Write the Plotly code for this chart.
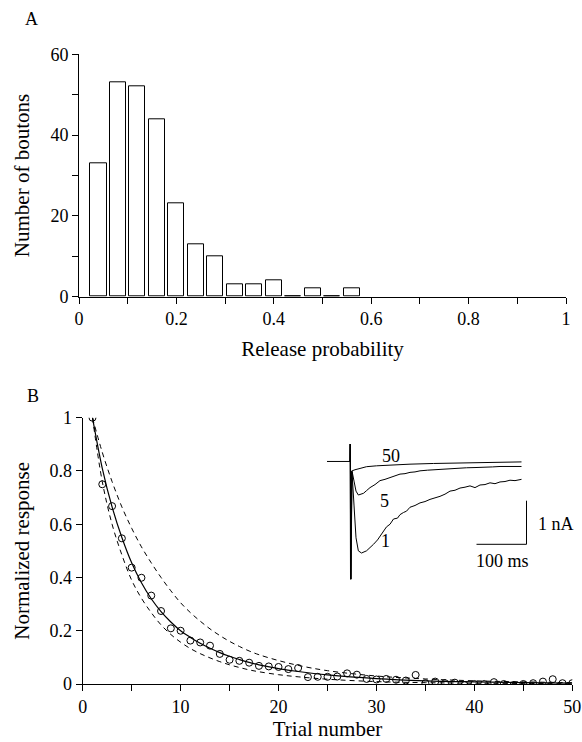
import plotly.graph_objects as go

# ---------------- Panel A data ----------------
bin_centers = [0.04, 0.08, 0.12, 0.16, 0.20, 0.24, 0.28, 0.32, 0.36, 0.40, 0.44, 0.48, 0.52, 0.56]
bouton_counts = [33, 53, 52, 44, 23, 13, 10, 3, 3, 4, 0, 2, 0, 2]

# ---------------- Panel B data ----------------
trials = list(range(1, 51))
norm_resp = [1.00, 0.75, 0.668, 0.547, 0.437, 0.399, 0.332, 0.274, 0.209, 0.200,
             0.163, 0.156, 0.144, 0.113, 0.091, 0.087, 0.080, 0.068, 0.066, 0.064,
             0.056, 0.060, 0.026, 0.027, 0.027, 0.028, 0.040, 0.035, 0.019, 0.017,
             0.019, 0.016, 0.013, 0.034, 0.003, 0.009, 0.003, 0.005, -0.004, 0.000,
             0.000, 0.007, 0.000, -0.004, 0.000, 0.003, 0.009, 0.018, 0.003, 0.003]

fit_trials = [1, 2, 3, 4, 5, 6, 7, 8, 9, 10, 11, 12, 13, 14, 15, 16, 17, 18, 20, 22, 25, 30, 35, 40, 45, 50]
fit_solid = [1.0, 0.81, 0.665, 0.55, 0.455, 0.38, 0.32, 0.272, 0.233, 0.20, 0.175, 0.153, 0.134,
             0.118, 0.104, 0.092, 0.081, 0.072, 0.058, 0.047, 0.034, 0.020, 0.012, 0.008, 0.005, 0.003]
fit_upper = [1.0, 0.87, 0.76, 0.665, 0.585, 0.515, 0.455, 0.40, 0.35, 0.305, 0.268, 0.236, 0.207,
             0.182, 0.16, 0.141, 0.124, 0.11, 0.088, 0.07, 0.05, 0.03, 0.019, 0.012, 0.008, 0.005]
fit_lower = [1.0, 0.76, 0.60, 0.485, 0.39, 0.322, 0.268, 0.222, 0.186, 0.157, 0.133, 0.114, 0.098,
             0.084, 0.072, 0.062, 0.053, 0.046, 0.035, 0.027, 0.018, 0.009, 0.005, 0.003, 0.002, 0.001]

# ---------------- Inset traces (time ms, current nA) ----------------
trace1_t = [0, 0.5, 1.5, 4, 8, 12, 16.7, 23, 33, 40, 47, 55, 63, 68, 73, 80, 87, 95, 100, 107, 113,
            120, 130, 140, 150, 160, 170, 180, 190, 200, 210, 220, 230, 240, 250, 260, 270, 280,
            290, 300, 310, 320, 330, 343]
trace1_i = [0, 0.40, -2.70, -0.25, -1.0, -1.75, -2.05, -2.10, -2.05, -1.98, -1.90, -1.80, -1.67,
            -1.60, -1.50, -1.44, -1.32, -1.30, -1.22, -1.17, -1.14, -1.05, -1.01, -0.95, -0.92,
            -0.87, -0.84, -0.80, -0.75, -0.68, -0.66, -0.61, -0.59, -0.56, -0.60, -0.54, -0.53,
            -0.49, -0.51, -0.47, -0.46, -0.43, -0.44, -0.41]

trace5_t = [0, 0.7, 2, 4, 8, 12, 16.7, 22, 27, 33, 40, 50, 60, 70, 80, 90, 100, 110, 120, 130, 140,
            155, 167, 185, 200, 215, 233, 250, 267, 285, 300, 320, 343]
trace5_i = [0, 0.40, -2.70, -0.22, -0.45, -0.68, -0.77, -0.75, -0.73, -0.67, -0.60, -0.53, -0.44,
            -0.41, -0.37, -0.34, -0.29, -0.28, -0.25, -0.24, -0.215, -0.20, -0.19, -0.175, -0.16,
            -0.155, -0.145, -0.14, -0.14, -0.125, -0.115, -0.12, -0.115]

trace50_t = [-46, 0, 0.3, 1, 3, 6, 10, 20, 33, 53, 80, 120, 167, 233, 300, 343]
trace50_i = [0, 0, 0.40, -2.70, -0.22, -0.20, -0.19, -0.16, -0.12, -0.10, -0.078, -0.062, -0.046,
             -0.032, -0.023, -0.01]

scale_bar_t = [253, 353, 353]
scale_bar_i = [-1.90, -1.90, -0.90]

W, H = 582, 742
FONT = "Liberation Serif"


def px_x(a, b):
    return [a / W, b / W]


def px_y(top, bottom):
    return [1 - bottom / H, 1 - top / H]


fig = go.Figure()

fig.add_trace(go.Bar(x=bin_centers, y=bouton_counts, width=0.033,
                     marker=dict(color="white", line=dict(color="black", width=1)),
                     xaxis="x", yaxis="y", showlegend=False))

fig.add_trace(go.Scatter(x=fit_trials, y=fit_upper, mode="lines", line=dict(color="black", width=1, dash="5px,4px", shape="spline"),
                         xaxis="x2", yaxis="y2", showlegend=False))
fig.add_trace(go.Scatter(x=fit_trials, y=fit_lower, mode="lines", line=dict(color="black", width=1, dash="5px,4px", shape="spline"),
                         xaxis="x2", yaxis="y2", showlegend=False))
fig.add_trace(go.Scatter(x=fit_trials, y=fit_solid, mode="lines", line=dict(color="black", width=1.2, shape="spline"),
                         xaxis="x2", yaxis="y2", showlegend=False))
fig.add_trace(go.Scatter(x=trials, y=norm_resp, mode="markers",
                         marker=dict(symbol="circle-open", size=7, color="black", line=dict(width=1)),
                         xaxis="x2", yaxis="y2", showlegend=False))

for tt, ii in [(trace1_t, trace1_i), (trace5_t, trace5_i), (trace50_t, trace50_i)]:
    fig.add_trace(go.Scatter(x=tt, y=ii, mode="lines", line=dict(color="black", width=1),
                             xaxis="x3", yaxis="y3", showlegend=False))
fig.add_trace(go.Scatter(x=scale_bar_t, y=scale_bar_i, mode="lines", line=dict(color="black", width=1),
                         xaxis="x3", yaxis="y3", showlegend=False))

axis_common = dict(showgrid=False, zeroline=False, showline=True, linecolor="black", linewidth=1,
                   ticks="outside", ticklen=6, tickcolor="black", tickwidth=1, automargin=False,
                   tickfont=dict(family=FONT, size=18, color="black"))

fig.update_layout(
    width=W, height=H, margin=dict(l=0, r=0, t=0, b=0, pad=0, autoexpand=False),
    paper_bgcolor="white", plot_bgcolor="rgba(0,0,0,0)",
    font=dict(family=FONT, color="black"),
    bargap=0,
    xaxis=dict(axis_common, domain=px_x(79, 566), range=[0, 1], dtick=0.2, anchor="y",
               minor=dict(dtick=0.1, ticks="outside", ticklen=6, tickcolor="black"),
               title=dict(text="Release probability", font=dict(family=FONT, size=21), standoff=13)),
    yaxis=dict(axis_common, domain=px_y(54.3, 296.7), range=[0, 60], dtick=20, anchor="x",
               minor=dict(dtick=10, ticks="outside", ticklen=6, tickcolor="black"),
               title=dict(text="Number of boutons", font=dict(family=FONT, size=21), standoff=15)),
    xaxis2=dict(axis_common, domain=px_x(82.7, 572.3), range=[0, 50], dtick=10, anchor="y2",
                minor=dict(dtick=5, ticks="outside", ticklen=6, tickcolor="black"),
                title=dict(text="Trial number", font=dict(family=FONT, size=21), standoff=1)),
    yaxis2=dict(axis_common, domain=px_y(417.7, 684), range=[0, 1], dtick=0.2, anchor="x2",
                title=dict(text="Normalized response", font=dict(family=FONT, size=21), standoff=14)),
    xaxis3=dict(domain=px_x(325, 550), range=[-50, 400], visible=False, anchor="y3", automargin=False),
    yaxis3=dict(domain=px_y(435.3, 587.9), range=[-2.9, 0.6], visible=False, anchor="x3", automargin=False),
    annotations=[
        dict(text="A", x=31.5 / W, y=1 - 19 / H, xref="paper", yref="paper", showarrow=False,
             xanchor="center", yanchor="middle", font=dict(family=FONT, size=18)),
        dict(text="B", x=32.5 / W, y=1 - 396 / H, xref="paper", yref="paper", showarrow=False,
             xanchor="center", yanchor="middle", font=dict(family=FONT, size=18)),
        dict(text="50", x=82, y=0.12, xref="x3", yref="y3", showarrow=False, yanchor="middle",
             font=dict(family=FONT, size=18)),
        dict(text="5", x=68, y=-0.90, xref="x3", yref="y3", showarrow=False, yanchor="middle",
             font=dict(family=FONT, size=18)),
        dict(text="1", x=70, y=-1.82, xref="x3", yref="y3", showarrow=False, yanchor="middle",
             font=dict(family=FONT, size=18)),
        dict(text="1 nA", x=372, y=-1.43, xref="x3", yref="y3", showarrow=False, xanchor="left",
             yanchor="middle", font=dict(family=FONT, size=18)),
        dict(text="100 ms", x=305, y=-2.28, xref="x3", yref="y3", showarrow=False, yanchor="middle",
             font=dict(family=FONT, size=18)),
    ],
)

fig.write_html("out.html", config={"responsive": False, "displayModeBar": False})
